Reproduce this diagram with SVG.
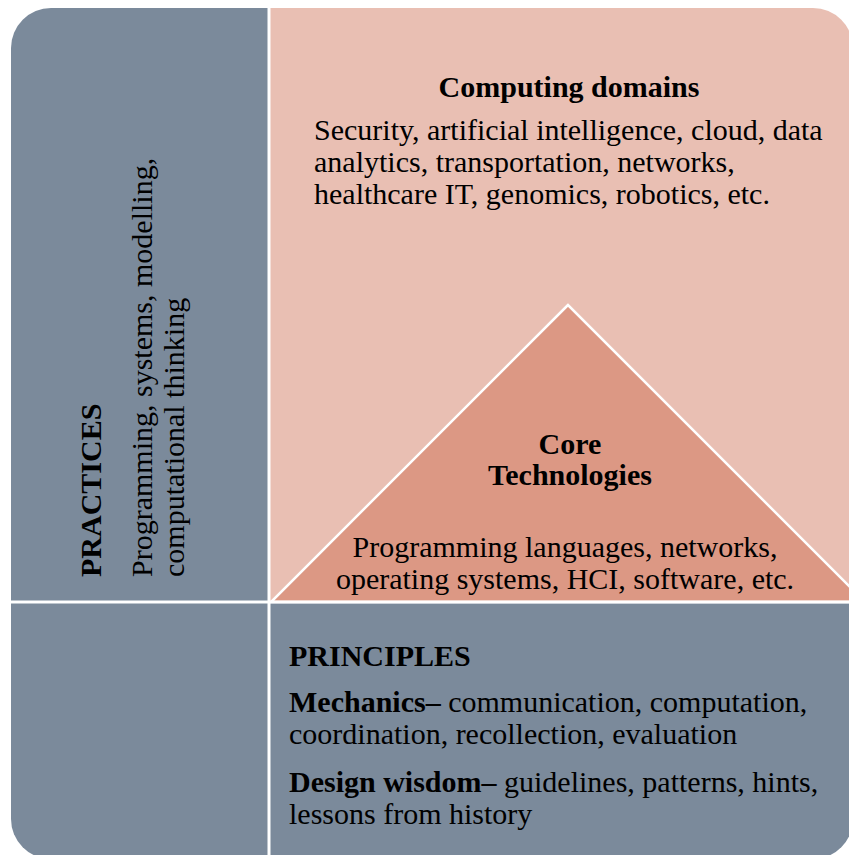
<svg xmlns="http://www.w3.org/2000/svg" width="849" height="855" viewBox="0 0 849 855">
<style>
text{font-family:"Liberation Serif","Times New Roman",serif;font-size:30px;fill:#000}
.b{font-weight:bold}
.c{text-anchor:middle}
.sep{stroke:#fff;stroke-width:3}
</style>
<defs>
<clipPath id="outer"><rect x="11" y="8" width="842" height="851" rx="40" ry="40"/></clipPath>
</defs>
<rect width="849" height="855" fill="#fff"/>
<g clip-path="url(#outer)">
<g id="practices">
<rect x="0" y="0" width="270" height="855" fill="#7b8a9b"/>
<text class="b" transform="translate(101,577) rotate(-90)">PRACTICES</text>
<text transform="translate(152,577) rotate(-90)">Programming, systems, modelling,</text>
<text transform="translate(184,577) rotate(-90)">computational thinking</text>
</g>
<g id="principles">
<rect x="270" y="602" width="600" height="260" fill="#7b8a9b"/>
<text class="b" x="289" y="666">PRINCIPLES</text>
<text x="289" y="712"><tspan class="b">Mechanics–</tspan> communication, computation,</text>
<text x="289" y="744">coordination, recollection, evaluation</text>
<text x="289" y="792"><tspan class="b">Design wisdom–</tspan> guidelines, patterns, hints,</text>
<text x="289" y="824">lessons from history</text>
</g>
<g id="domains">
<rect x="270" y="0" width="600" height="602" fill="#e9bfb3"/>
<text class="b c" x="569" y="97">Computing domains</text>
<text x="314" y="140">Security, artificial intelligence, cloud, data</text>
<text x="314" y="172">analytics, transportation, networks,</text>
<text x="314" y="204">healthcare IT, genomics, robotics, etc.</text>
</g>
<g id="core">
<polygon points="568,305 271,602 865,602" fill="#dc9884" stroke="#fff" stroke-width="2.5"/>
<text class="b c" x="570" y="454">Core</text>
<text class="b c" x="570" y="485">Technologies</text>
<text class="c" x="565" y="557">Programming languages, networks,</text>
<text class="c" x="565" y="589">operating systems, HCI, software, etc.</text>
</g>
<g id="connectors">
<line class="sep" x1="269" y1="0" x2="269" y2="855"/>
<line class="sep" x1="0" y1="602" x2="849" y2="602"/>
</g>
</g>
</svg>
